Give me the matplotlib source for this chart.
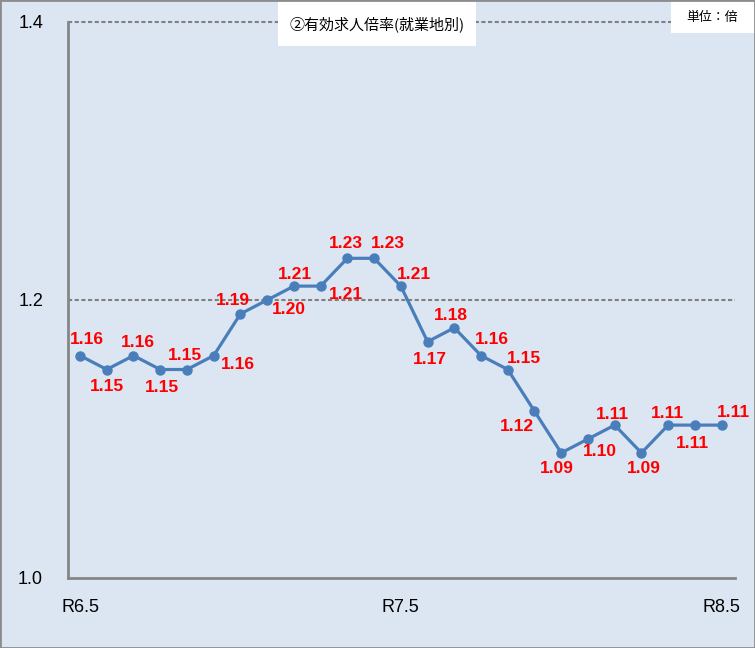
import matplotlib
matplotlib.use("Agg")
import matplotlib.pyplot as plt
from matplotlib.patches import Rectangle

# monthly data R6.5 .. R8.5
values = [1.16, 1.15, 1.16, 1.15, 1.15, 1.16, 1.19, 1.20, 1.21, 1.21, 1.23, 1.23,
          1.21, 1.17, 1.18, 1.16, 1.15, 1.12, 1.09, 1.10, 1.11, 1.09, 1.11, 1.11, 1.11]
tick_idx = [0, 12, 24]
tick_labels = ["R6.5", "R7.5", "R8.5"]
title = "②有効求人倍率(就業地別)"
unit = "単位：倍"

# label offsets (pixels) from each point
offs = [(7, -16), (0, 17), (4, -13), (2, 18), (-2, -14), (24, 9), (-8, -13), (22, 9),
        (1, -12), (25, 8), (-1, -15), (14, -15), (13, -12), (2, 18), (-3, -12),
        (11, -16), (16, -11), (-18, 15), (-4, 16), (12, 13), (-2, -11), (2, 16),
        (-1, -12), (-2, 18), (12, -13)]

W, H = 755, 648
bg = "#dce6f2"
fig = plt.figure(figsize=(W / 100, H / 100), dpi=100, facecolor=bg)
ax = fig.add_axes([68 / W, 1 - 578 / H, (735 - 68) / W, (578 - 22) / H])
ax.set_facecolor(bg)

x = list(range(len(values)))
ax.plot(x, values, color="#4a7ebb", lw=2.3, marker="o", ms=6.5, zorder=3)

for i, v in enumerate(values):
    dx, dy = offs[i]
    ax.annotate(f"{v:.2f}", (i, v), xytext=(dx * 0.72, -dy * 0.72),
                textcoords="offset points", ha="center", va="center",
                color="red", fontsize=12.5, fontweight="bold",
                family="Liberation Sans", zorder=4)

ax.set_xlim(-0.45, 24.5)
ax.set_ylim(1.0, 1.4)
ax.set_yticks([1.0, 1.2, 1.4])
ax.set_yticklabels(["1.0", "1.2", "1.4"])
ax.set_xticks(tick_idx)
ax.set_xticklabels(tick_labels)
for y in [1.2, 1.4]:
    ax.axhline(y, color="#808080", lw=1.5, ls=(0, (2, 1.2)), zorder=1, clip_on=False)

for s in ["top", "right"]:
    ax.spines[s].set_visible(False)
for s in ["left", "bottom"]:
    ax.spines[s].set_color("#868686")
    ax.spines[s].set_linewidth(2)
ax.tick_params(length=0)
ax.tick_params(axis="y", pad=18)
ax.tick_params(axis="x", pad=15)
for lab in ax.get_xticklabels() + ax.get_yticklabels():
    lab.set_family("Liberation Sans")
    lab.set_fontsize(13)


def px_rect(x0, y0, x1, y1):
    return Rectangle((x0 / W, 1 - y1 / H), (x1 - x0) / W, (y1 - y0) / H,
                     transform=fig.transFigure, fc="white", ec="none", zorder=5)


# title box and unit box
fig.patches.append(px_rect(278, 1, 476, 46))
fig.patches.append(px_rect(671, 0, 755, 33))
fig.text(377 / W, 1 - 24 / H, title, ha="center", va="center", fontsize=10.8,
         family=["Noto Sans CJK JP", "DejaVu Sans"], zorder=6)
fig.text(712 / W, 1 - 18 / H, unit, ha="center", va="center", fontsize=9.3,
         family=["Noto Sans CJK JP", "DejaVu Sans"], zorder=6)

fig.patches.append(Rectangle((0, 0), 1, 1, transform=fig.transFigure, fill=False,
                             ec="#8c8c8c", lw=2, zorder=7))

fig.savefig("out.png", dpi=100, facecolor=bg)
